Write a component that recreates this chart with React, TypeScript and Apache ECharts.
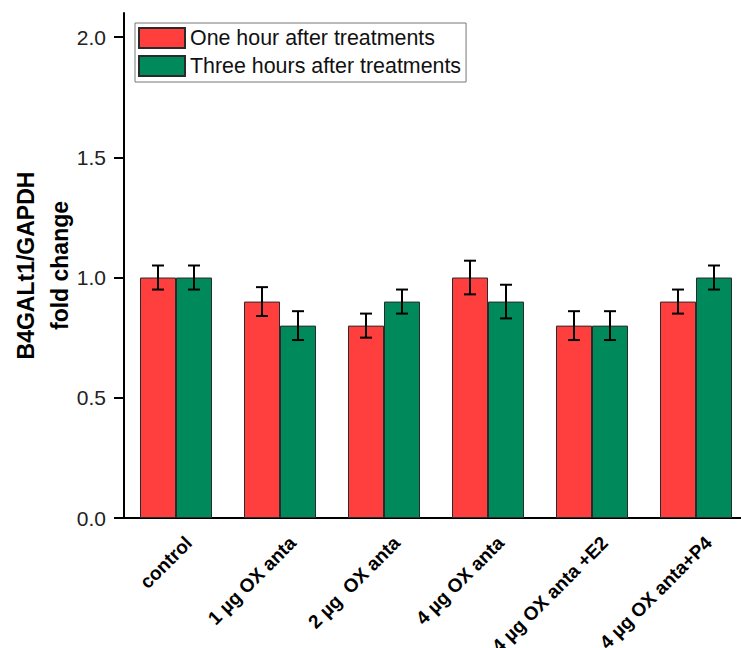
import React, { useEffect, useRef } from "react";
import * as echarts from "echarts";

const categories = [
  "control",
  "1 µg OX anta",
  "2 µg  OX anta",
  "4 µg OX anta",
  "4 µg OX anta +E2",
  "4 µg OX anta+P4",
];
const oneHour = [1.0, 0.9, 0.8, 1.0, 0.8, 0.9];
const oneHourErr = [0.05, 0.06, 0.05, 0.07, 0.06, 0.05];
const threeHours = [1.0, 0.8, 0.9, 0.9, 0.8, 1.0];
const threeHoursErr = [0.05, 0.06, 0.05, 0.07, 0.06, 0.05];
const yTicks = [0, 0.5, 1.0, 1.5, 2.0];

const RED = "#FF3E3E";
const GREEN = "#00895B";
const FONT = "'Liberation Sans', Arial, sans-serif";
const BAR_W = 36;

function errSeries(values: number[], errs: number[], shift: number) {
  return {
    type: "custom",
    name: shift < 0 ? "err1" : "err3",
    z: 10,
    data: values.map((v, i) => [i, v, errs[i]]),
    renderItem: (_p: any, api: any) => {
      const x = api.value(0);
      const v = api.value(1);
      const e = api.value(2);
      const top = api.coord([x, v + e]);
      const bot = api.coord([x, v - e]);
      const cx = top[0] + shift;
      const st = { stroke: "#000", lineWidth: 2 };
      return {
        type: "group",
        children: [
          { type: "line", shape: { x1: cx, y1: top[1], x2: cx, y2: bot[1] }, style: st },
          { type: "line", shape: { x1: cx - 6, y1: top[1], x2: cx + 6, y2: top[1] }, style: st },
          { type: "line", shape: { x1: cx - 6, y1: bot[1], x2: cx + 6, y2: bot[1] }, style: st },
        ],
      };
    },
  };
}

export default function App() {
  const ref = useRef<HTMLDivElement>(null);
  useEffect(() => {
    if (!ref.current) return;
    const chart = echarts.init(ref.current, null, { renderer: "svg" });
    chart.setOption({
      animation: false,
      backgroundColor: "#fff",
      textStyle: { fontFamily: FONT },
      legend: {
        data: ["One hour after treatments", "Three hours after treatments"],
        orient: "vertical",
        left: 135,
        top: 23,
        padding: [4, 5, 5, 3],
        itemWidth: 46,
        itemHeight: 20,
        itemGap: 6,
        icon: "rect",
        borderColor: "#777",
        borderWidth: 1,
        textStyle: { fontSize: 21.4, color: "#111", fontFamily: FONT },
      },
      grid: {
        left: 124,
        right: -7,
        top: 13,
        bottom: 130,
        containLabel: false,
        outerBoundsMode: "none",
      },
      xAxis: {
        type: "category",
        data: categories,
        axisLine: { show: true, lineStyle: { color: "#000", width: 2 } },
        axisTick: { show: false },
        axisLabel: {
          rotate: 45,
          margin: 9,
          verticalAlign: "top",
          lineHeight: 36,
          fontSize: 19,
          fontWeight: "bold",
          color: "#000",
          fontFamily: FONT,
          interval: 0,
        },
      },
      yAxis: {
        type: "value",
        min: 0,
        max: 2.1,
        interval: 0.5,
        name: "B4GALt1/GAPDH\nfold change",
        nameLocation: "middle",
        nameGap: 47,
        nameMoveOverlap: false,
        nameTextStyle: {
          fontSize: 23,
          fontWeight: "bold",
          color: "#000",
          lineHeight: 34,
          fontFamily: FONT,
        },
        axisLine: { show: true, lineStyle: { color: "#000", width: 2 } },
        axisTick: {
          show: true,
          length: 10,
          lineStyle: { color: "#000", width: 2 },
          customValues: yTicks,
        },
        axisLabel: {
          customValues: yTicks,
          formatter: (v: number) => v.toFixed(1),
          fontSize: 21,
          color: "#222",
          margin: 18,
          fontFamily: FONT,
        },
        splitLine: { show: false },
      },
      series: [
        {
          type: "bar",
          name: "One hour after treatments",
          data: oneHour,
          barWidth: BAR_W,
          barGap: "0%",
          itemStyle: { color: RED, borderColor: "#2a2a2a", borderWidth: 1 },
        },
        {
          type: "bar",
          name: "Three hours after treatments",
          data: threeHours,
          barWidth: BAR_W,
          barGap: "0%",
          itemStyle: { color: GREEN, borderColor: "#2a2a2a", borderWidth: 1 },
        },
        errSeries(oneHour, oneHourErr, -BAR_W / 2),
        errSeries(threeHours, threeHoursErr, BAR_W / 2),
      ],
    });
    return () => chart.dispose();
  }, []);
  return (
    <div
      ref={ref}
      style={{ position: "absolute", left: 0, top: 0, width: 741, height: 648 }}
    />
  );
}
